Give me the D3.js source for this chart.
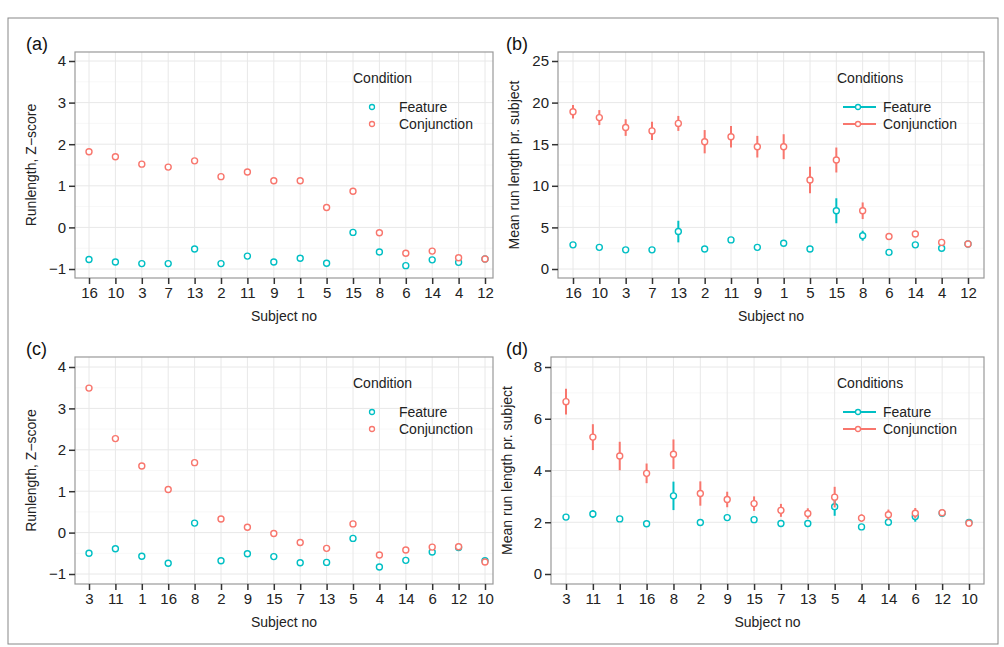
<!DOCTYPE html>
<html><head><meta charset="utf-8">
<script src="https://cdn.jsdelivr.net/npm/d3@7"></script>
<style>body{margin:0;background:#fff}text{font-family:"Liberation Sans",Arial,sans-serif}</style>
</head><body><svg id="fig" width="1004" height="647"></svg>
<script>
const subjectsA = ['16','10','3','7','13','2','11','9','1','5','15','8','6','14','4','12'];
const subjectsC = ['3','11','1','16','8','2','9','15','7','13','5','4','14','6','12','10'];

const zFeatA = [-0.77,-0.83,-0.87,-0.87,-0.52,-0.87,-0.69,-0.83,-0.74,-0.86,-0.12,-0.59,-0.92,-0.78,-0.84,-0.76];
const zConjA = [1.82,1.70,1.52,1.45,1.60,1.22,1.33,1.12,1.12,0.48,0.87,-0.13,-0.62,-0.57,-0.73,-0.76];

const mFeatB = [2.9,2.6,2.3,2.3,4.5,2.4,3.5,2.6,3.1,2.4,7.0,4.0,2.0,2.9,2.5,3.0];
const eFeatB = [0.2,0.2,0.2,0.2,1.3,0.2,0.2,0.2,0.2,0.2,1.5,0.6,0.2,0.2,0.2,0.2];
const mConjB = [18.9,18.2,17.0,16.6,17.5,15.3,15.9,14.7,14.7,10.7,13.1,7.0,3.9,4.2,3.2,3.0];
const eConjB = [0.8,0.9,1.0,1.1,0.9,1.4,1.3,1.3,1.5,1.6,1.5,1.0,0.3,0.3,0.2,0.2];

const zFeatC = [-0.50,-0.39,-0.57,-0.74,0.23,-0.68,-0.51,-0.58,-0.73,-0.72,-0.14,-0.83,-0.67,-0.47,-0.36,-0.68];
const zConjC = [3.49,2.27,1.61,1.04,1.69,0.33,0.13,-0.02,-0.24,-0.38,0.21,-0.54,-0.42,-0.35,-0.34,-0.71];

const mFeatD = [2.20,2.32,2.13,1.94,3.02,1.99,2.18,2.10,1.95,1.95,2.60,1.82,2.00,2.22,2.35,1.99];
const eFeatD = [0.10,0.15,0.10,0.08,0.55,0.12,0.10,0.10,0.08,0.08,0.35,0.08,0.10,0.20,0.10,0.05];
const mConjD = [6.66,5.29,4.56,3.89,4.63,3.11,2.88,2.72,2.46,2.34,2.97,2.16,2.29,2.35,2.37,1.96];
const eConjD = [0.50,0.50,0.55,0.38,0.57,0.47,0.30,0.28,0.25,0.20,0.40,0.15,0.20,0.20,0.10,0.05];

const zTicks = [-1,0,1,2,3,4];
const bTicks = [0,5,10,15,20,25];
const dTicks = [0,2,4,6,8];

const colFeat = '#00BFC4', colConj = '#F8766D';
const svg = d3.select('#fig');

svg.append('rect').attr('x',8).attr('y',18).attr('width',990).attr('height',626)
  .attr('fill','none').attr('stroke','#888').attr('stroke-width',1);

function panel(o) {
  const g = svg.append('g');
  const x = d3.scalePoint().domain(o.cats).range([o.x0, o.x1]);
  const y = d3.scaleLinear().domain(o.yDom).range([o.yb, o.yt]);
  // background grid
  const step = o.yTicks[1] - o.yTicks[0];
  const minor = d3.range(o.yDom[0] - step, o.yDom[1], step).map(v => v + step / 2);
  g.selectAll('.mn').data(minor.filter(v => y(v) > o.top && y(v) < o.bottom)).enter().append('line')
    .attr('x1', o.left).attr('x2', o.right).attr('y1', d => y(d)).attr('y2', d => y(d))
    .attr('stroke', '#f2f2f2').attr('stroke-width', 0.6);
  g.selectAll('.gy').data(o.yTicks).enter().append('line')
    .attr('x1', o.left).attr('x2', o.right).attr('y1', d => y(d)).attr('y2', d => y(d))
    .attr('stroke', '#e8e8e8').attr('stroke-width', 1);
  g.selectAll('.gx').data(o.cats).enter().append('line')
    .attr('x1', d => x(d)).attr('x2', d => x(d)).attr('y1', o.top).attr('y2', o.bottom)
    .attr('stroke', '#e8e8e8').attr('stroke-width', 1);
  g.append('rect').attr('x', o.left).attr('y', o.top).attr('width', o.right - o.left)
    .attr('height', o.bottom - o.top).attr('fill', 'none').attr('stroke', '#999').attr('stroke-width', 1.2);

  // axes
  const ax = g.append('g').attr('transform', `translate(0,${o.bottom})`)
    .call(d3.axisBottom(x).tickSize(6).tickPadding(3));
  const ay = g.append('g').attr('transform', `translate(${o.left},0)`)
    .call(d3.axisLeft(y).tickValues(o.yTicks).tickFormat(d => d < 0 ? '\u2212' + (-d) : d).tickSize(6).tickPadding(3));
  [ax, ay].forEach(a => {
    a.select('.domain').remove();
    a.selectAll('line').attr('stroke', '#333').attr('stroke-width', 1.5);
    a.selectAll('text').attr('font-size', 15).attr('fill', '#222');
  });
  g.append('text').attr('x', (o.left + o.right) / 2).attr('y', o.bottom + 43)
    .attr('text-anchor', 'middle').attr('font-size', 14).attr('fill', '#222').text('Subject no');
  g.append('text').attr('transform', `translate(${o.left - 39},${(o.top + o.bottom) / 2}) rotate(-90)`)
    .attr('text-anchor', 'middle').attr('font-size', 14).attr('fill', '#222').text(o.yTitle);
  g.append('text').attr('x', o.labX).attr('y', o.top - 2).attr('font-size', 18).attr('fill', '#111').text(o.label);

  const series = [
    { v: o.feat, e: o.featErr, c: colFeat, name: 'Feature' },
    { v: o.conj, e: o.conjErr, c: colConj, name: 'Conjunction' }
  ];
  series.forEach(s => {
    if (s.e) {
      g.selectAll(null).data(o.cats).enter().append('line')
        .attr('x1', d => x(d)).attr('x2', d => x(d))
        .attr('y1', (d, i) => y(s.v[i] - s.e[i])).attr('y2', (d, i) => y(s.v[i] + s.e[i]))
        .attr('stroke', s.c).attr('stroke-width', 2);
    }
    g.selectAll(null).data(o.cats).enter().append('circle')
      .attr('cx', d => x(d)).attr('cy', (d, i) => y(s.v[i])).attr('r', 3)
      .attr('fill', '#fff').attr('stroke', s.c).attr('stroke-width', 1.4);
  });

  // legend
  const lx = o.legX, ly = o.top + 31;
  g.append('text').attr('x', lx).attr('y', ly).attr('font-size', 14).attr('fill', '#222').text(o.legTitle);
  series.forEach((s, i) => {
    const yy = ly + 24 + i * 17;
    const kx = lx + (o.featErr ? 21 : 19);
    if (o.featErr) g.append('line').attr('x1', kx - 15).attr('x2', kx + 18).attr('y1', yy).attr('y2', yy)
      .attr('stroke', s.c).attr('stroke-width', 2);
    g.append('circle').attr('cx', kx).attr('cy', yy).attr('r', 2.5).attr('fill', '#fff')
      .attr('stroke', s.c).attr('stroke-width', 1.3);
    g.append('text').attr('x', lx + 46).attr('y', yy + 5).attr('font-size', 14).attr('fill', '#222').text(s.name);
  });
}

panel({ label: '(a)', labX: 26, cats: subjectsA, feat: zFeatA, conj: zConjA, yDom: [-1, 4], yTicks: zTicks,
  left: 75, right: 493, top: 52, bottom: 278, x0: 89, x1: 485, yt: 61, yb: 269,
  yTitle: 'Runlength, Z\u2212score', legX: 353, legTitle: 'Condition' });
panel({ label: '(b)', labX: 506, cats: subjectsA, feat: mFeatB, featErr: eFeatB, conj: mConjB, conjErr: eConjB,
  yDom: [0, 25], yTicks: bTicks,
  left: 558, right: 984, top: 52, bottom: 278, x0: 573, x1: 968, yt: 61, yb: 269,
  yTitle: 'Mean run length pr. subject', legX: 837, legTitle: 'Conditions' });
panel({ label: '(c)', labX: 26, cats: subjectsC, feat: zFeatC, conj: zConjC, yDom: [-1, 4], yTicks: zTicks,
  left: 75, right: 493, top: 357, bottom: 584, x0: 89, x1: 485, yt: 367, yb: 574,
  yTitle: 'Runlength, Z\u2212score', legX: 353, legTitle: 'Condition' });
panel({ label: '(d)', labX: 506, cats: subjectsC, feat: mFeatD, featErr: eFeatD, conj: mConjD, conjErr: eConjD,
  yDom: [0, 8], yTicks: dTicks,
  left: 551, right: 984, top: 357, bottom: 584, x0: 566, x1: 969, yt: 367, yb: 574,
  yTitle: 'Mean run length pr. subject', legX: 837, legTitle: 'Conditions' });
</script></body></html>
